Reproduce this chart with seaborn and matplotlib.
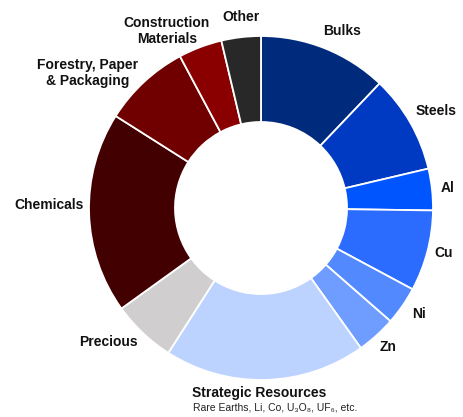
import matplotlib
matplotlib.use("Agg")
import matplotlib.pyplot as plt
import seaborn as sns

categories = ["Bulks", "Steels", "Al", "Cu", "Ni", "Zn", "Strategic Resources",
              "Precious", "Chemicals", "Forestry, Paper\n& Packaging",
              "Construction\nMaterials", "Other"]
shares = [12.1, 9.2, 3.9, 7.6, 3.6, 3.7, 18.9, 6.0, 18.9, 8.2, 4.1, 3.7]
subtitle = "Rare Earths, Li, Co, U₃O₈, UF₆, etc."

colors = ["#002B7D", "#003AC2", "#0055FF", "#2B6CFF", "#5389FF", "#6E9DFF",
          "#BDD3FF", "#D0CECE", "#420000", "#700000", "#8A0000", "#282828"]

# label centres in pixel coordinates of the 463x417 canvas
label_px = {
    "Bulks": (342, 31), "Steels": (436, 111), "Al": (448, 188), "Cu": (444, 253),
    "Ni": (419, 314), "Zn": (388, 347), "Strategic Resources": (259, 393),
    "Precious": (108, 342), "Chemicals": (49, 205),
    "Forestry, Paper\n& Packaging": (88, 73),
    "Construction\nMaterials": (167, 31), "Other": (241, 17),
}

sns.set_theme(style="white")
plt.rcParams['font.family'] = ['Liberation Sans', 'DejaVu Sans']

W, H = 463, 417
cx, cy, R = 261, 208, 172
fig = plt.figure(figsize=(W / 100, H / 100), dpi=100)
ax = fig.add_axes([0, 0, 1, 1])
ax.pie(shares, colors=colors, startangle=90, counterclock=False, radius=1,
       wedgeprops=dict(width=0.5, edgecolor="white", linewidth=1.3))
ax.set_xlim(-cx / R, (W - cx) / R)
ax.set_ylim(-(H - cy) / R, cy / R)
ax.set_aspect("auto")
ax.axis("off")

for cat in categories:
    px, py = label_px[cat]
    fig.text(px / W, 1 - py / H, cat, ha="center", va="center",
             fontsize=10, fontweight="bold", color="#111111", linespacing=1.25)
fig.text(275 / W, 1 - 408 / H, subtitle, ha="center", va="center",
         fontsize=7.5, color="#222222")

fig.savefig("out.png", dpi=100)
